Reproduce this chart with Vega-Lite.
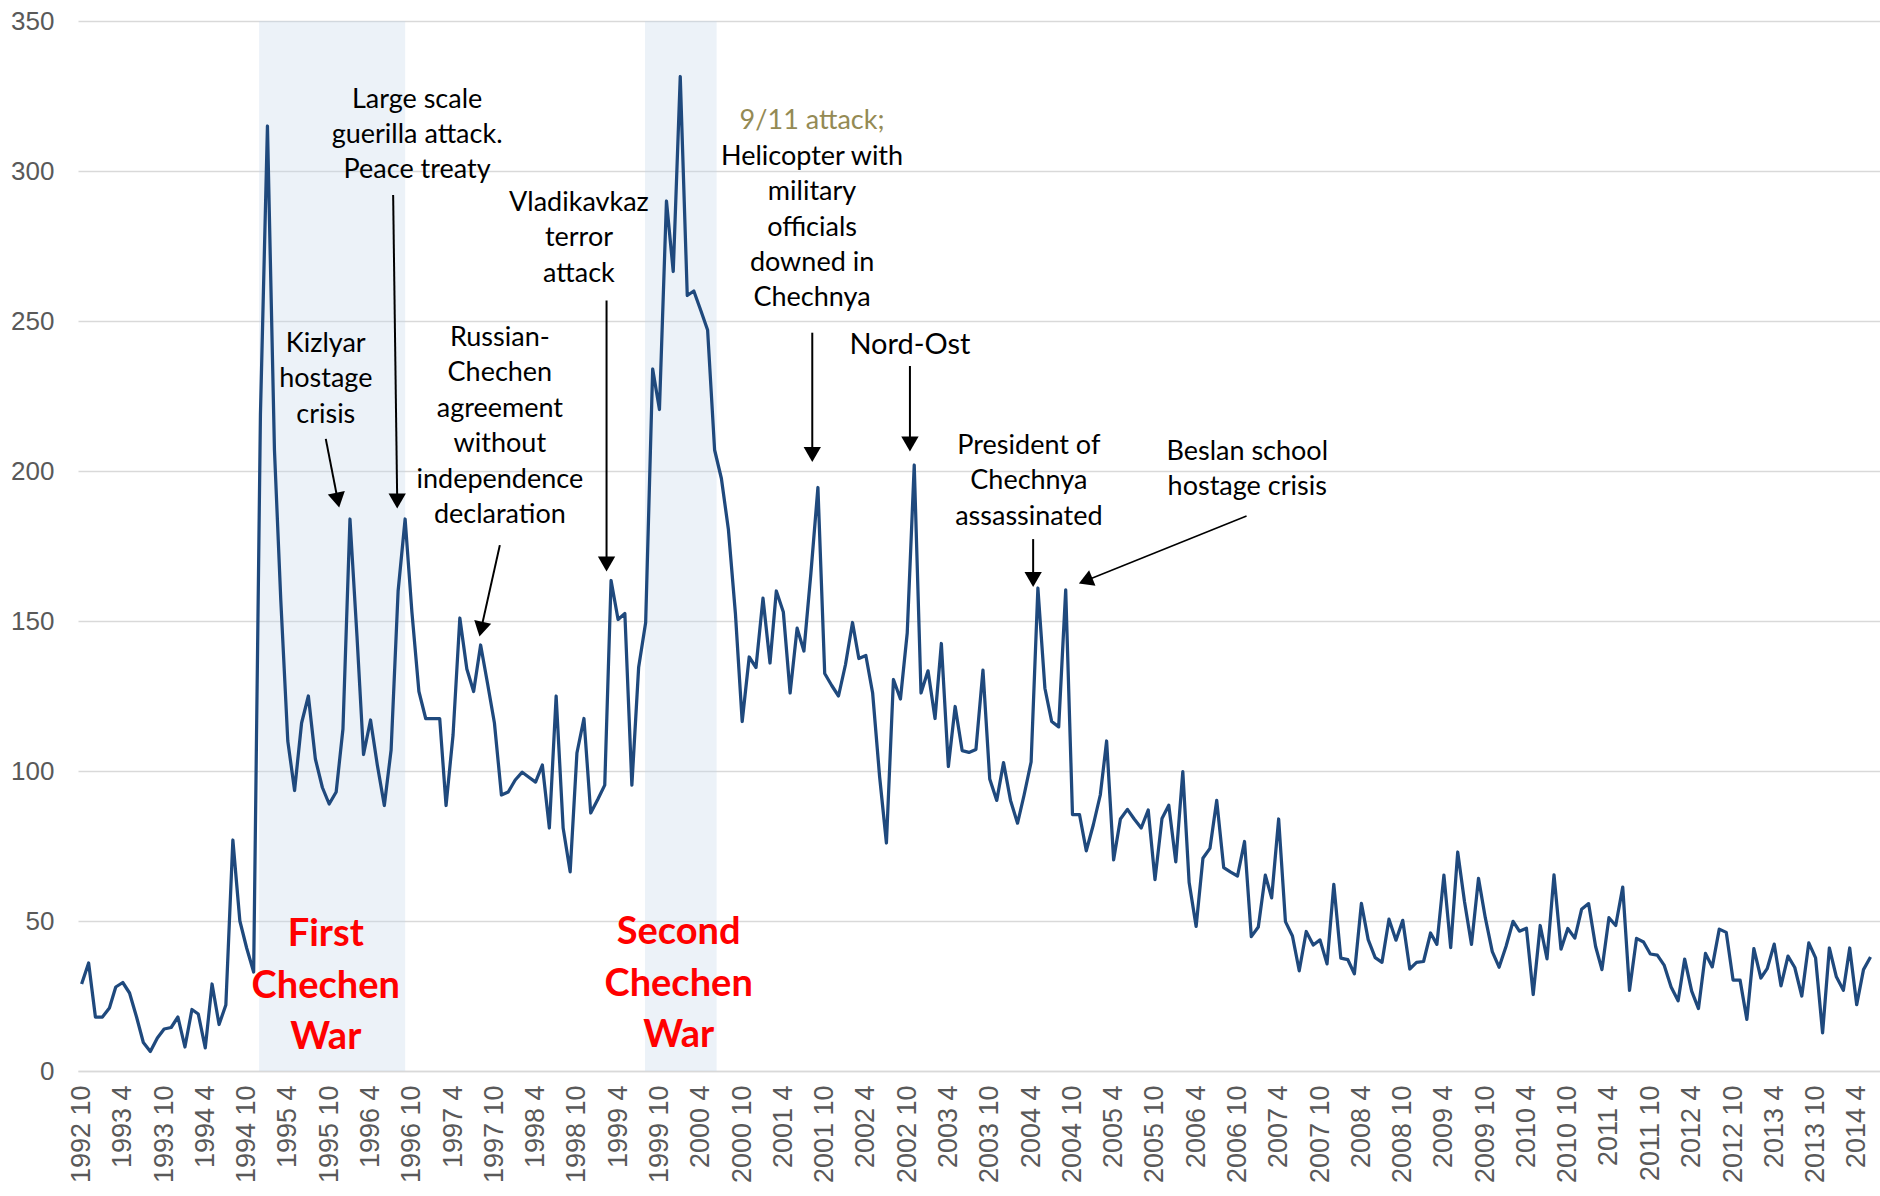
{
  "$schema": "https://vega.github.io/schema/vega-lite/v6.json",
  "width": 1802,
  "height": 1050,
  "autosize": {"type": "none"},
  "padding": {"left": 78, "top": 21, "right": 0, "bottom": 125},
  "background": "white",
  "config": {"view": {"stroke": null}},
  "datasets": {
    "series": [
      {"d":"1992-10-01","v":29},{"d":"1992-11-01","v":36},{"d":"1992-12-01","v":18},
      {"d":"1993-01-01","v":18},{"d":"1993-02-01","v":21},{"d":"1993-03-01","v":28},{"d":"1993-04-01","v":29.5},{"d":"1993-05-01","v":26},{"d":"1993-06-01","v":18},{"d":"1993-07-01","v":9.5},{"d":"1993-08-01","v":6.5},{"d":"1993-09-01","v":11},{"d":"1993-10-01","v":14},{"d":"1993-11-01","v":14.5},{"d":"1993-12-01","v":18},
      {"d":"1994-01-01","v":8},{"d":"1994-02-01","v":20.5},{"d":"1994-03-01","v":19},{"d":"1994-04-01","v":7.7},{"d":"1994-05-01","v":29},{"d":"1994-06-01","v":15.5},{"d":"1994-07-01","v":22},{"d":"1994-08-01","v":77},{"d":"1994-09-01","v":50},{"d":"1994-10-01","v":41},{"d":"1994-11-01","v":33},{"d":"1994-12-01","v":219},
      {"d":"1995-01-01","v":315},{"d":"1995-02-01","v":207},{"d":"1995-03-01","v":157},{"d":"1995-04-01","v":110},{"d":"1995-05-01","v":93.5},{"d":"1995-06-01","v":116},{"d":"1995-07-01","v":125},{"d":"1995-08-01","v":104},{"d":"1995-09-01","v":94.5},{"d":"1995-10-01","v":89},{"d":"1995-11-01","v":93},{"d":"1995-12-01","v":114},
      {"d":"1996-01-01","v":184},{"d":"1996-02-01","v":145},{"d":"1996-03-01","v":105.5},{"d":"1996-04-01","v":117},{"d":"1996-05-01","v":102},{"d":"1996-06-01","v":88.5},{"d":"1996-07-01","v":107},{"d":"1996-08-01","v":160},{"d":"1996-09-01","v":184},{"d":"1996-10-01","v":153},{"d":"1996-11-01","v":126.5},{"d":"1996-12-01","v":117.5},
      {"d":"1997-01-01","v":117.5},{"d":"1997-02-01","v":117.5},{"d":"1997-03-01","v":88.5},{"d":"1997-04-01","v":112},{"d":"1997-05-01","v":151},{"d":"1997-06-01","v":134},{"d":"1997-07-01","v":126.5},{"d":"1997-08-01","v":142},{"d":"1997-09-01","v":129},{"d":"1997-10-01","v":116},{"d":"1997-11-01","v":92},{"d":"1997-12-01","v":93},
      {"d":"1998-01-01","v":97},{"d":"1998-02-01","v":99.6},{"d":"1998-03-01","v":98},{"d":"1998-04-01","v":96.3},{"d":"1998-05-01","v":102},{"d":"1998-06-01","v":81},{"d":"1998-07-01","v":125},{"d":"1998-08-01","v":81},{"d":"1998-09-01","v":66.4},{"d":"1998-10-01","v":106},{"d":"1998-11-01","v":117.5},{"d":"1998-12-01","v":86},
      {"d":"1999-01-01","v":90.5},{"d":"1999-02-01","v":95.3},{"d":"1999-03-01","v":163.5},{"d":"1999-04-01","v":150.5},{"d":"1999-05-01","v":152.5},{"d":"1999-06-01","v":95.3},{"d":"1999-07-01","v":134.6},{"d":"1999-08-01","v":149.5},{"d":"1999-09-01","v":234},{"d":"1999-10-01","v":220.5},{"d":"1999-11-01","v":290},{"d":"1999-12-01","v":266.5},
      {"d":"2000-01-01","v":331.5},{"d":"2000-02-01","v":258.5},{"d":"2000-03-01","v":260},{"d":"2000-04-01","v":253.5},{"d":"2000-05-01","v":247},{"d":"2000-06-01","v":207},{"d":"2000-07-01","v":197.5},{"d":"2000-08-01","v":180.5},{"d":"2000-09-01","v":152.5},{"d":"2000-10-01","v":116.5},{"d":"2000-11-01","v":138},{"d":"2000-12-01","v":134.5},
      {"d":"2001-01-01","v":157.6},{"d":"2001-02-01","v":136},{"d":"2001-03-01","v":160},{"d":"2001-04-01","v":153},{"d":"2001-05-01","v":126},{"d":"2001-06-01","v":147.6},{"d":"2001-07-01","v":140},{"d":"2001-08-01","v":166},{"d":"2001-09-01","v":194.5},{"d":"2001-10-01","v":132.5},{"d":"2001-11-01","v":128.5},{"d":"2001-12-01","v":125},
      {"d":"2002-01-01","v":135.5},{"d":"2002-02-01","v":149.5},{"d":"2002-03-01","v":137.5},{"d":"2002-04-01","v":138.5},{"d":"2002-05-01","v":126},{"d":"2002-06-01","v":98},{"d":"2002-07-01","v":76},{"d":"2002-08-01","v":130.5},{"d":"2002-09-01","v":124},{"d":"2002-10-01","v":146},{"d":"2002-11-01","v":202},{"d":"2002-12-01","v":126},
      {"d":"2003-01-01","v":133.4},{"d":"2003-02-01","v":117.5},{"d":"2003-03-01","v":142.5},{"d":"2003-04-01","v":101.5},{"d":"2003-05-01","v":121.5},{"d":"2003-06-01","v":106.8},{"d":"2003-07-01","v":106.2},{"d":"2003-08-01","v":107.2},{"d":"2003-09-01","v":133.6},{"d":"2003-10-01","v":97.3},{"d":"2003-11-01","v":90.2},{"d":"2003-12-01","v":102.8},
      {"d":"2004-01-01","v":90.2},{"d":"2004-02-01","v":82.6},{"d":"2004-03-01","v":92},{"d":"2004-04-01","v":103},{"d":"2004-05-01","v":161},{"d":"2004-06-01","v":127.6},{"d":"2004-07-01","v":116.5},{"d":"2004-08-01","v":114.7},{"d":"2004-09-01","v":160.4},{"d":"2004-10-01","v":85.5},{"d":"2004-11-01","v":85.5},{"d":"2004-12-01","v":73.4},
      {"d":"2005-01-01","v":82},{"d":"2005-02-01","v":92},{"d":"2005-03-01","v":110},{"d":"2005-04-01","v":70.4},{"d":"2005-05-01","v":84},{"d":"2005-06-01","v":87.2},{"d":"2005-07-01","v":84},{"d":"2005-08-01","v":81},{"d":"2005-09-01","v":87},{"d":"2005-10-01","v":63.8},{"d":"2005-11-01","v":84.2},{"d":"2005-12-01","v":88.6},
      {"d":"2006-01-01","v":69.7},{"d":"2006-02-01","v":99.8},{"d":"2006-03-01","v":62.8},{"d":"2006-04-01","v":48.2},{"d":"2006-05-01","v":70.9},{"d":"2006-06-01","v":74.2},{"d":"2006-07-01","v":90.2},{"d":"2006-08-01","v":67.8},{"d":"2006-09-01","v":66.3},{"d":"2006-10-01","v":65},{"d":"2006-11-01","v":76.5},{"d":"2006-12-01","v":44.8},
      {"d":"2007-01-01","v":48},{"d":"2007-02-01","v":65.3},{"d":"2007-03-01","v":57.7},{"d":"2007-04-01","v":84},{"d":"2007-05-01","v":49.8},{"d":"2007-06-01","v":45},{"d":"2007-07-01","v":33.4},{"d":"2007-08-01","v":46.5},{"d":"2007-09-01","v":42},{"d":"2007-10-01","v":43.7},{"d":"2007-11-01","v":35.7},{"d":"2007-12-01","v":62.2},
      {"d":"2008-01-01","v":37.6},{"d":"2008-02-01","v":37.1},{"d":"2008-03-01","v":32.4},{"d":"2008-04-01","v":55.9},{"d":"2008-05-01","v":43.8},{"d":"2008-06-01","v":37.8},{"d":"2008-07-01","v":36.2},{"d":"2008-08-01","v":50.6},{"d":"2008-09-01","v":43.6},{"d":"2008-10-01","v":50.2},{"d":"2008-11-01","v":34},{"d":"2008-12-01","v":36.2},
      {"d":"2009-01-01","v":36.5},{"d":"2009-02-01","v":46},{"d":"2009-03-01","v":42.2},{"d":"2009-04-01","v":65.3},{"d":"2009-05-01","v":41.1},{"d":"2009-06-01","v":73},{"d":"2009-07-01","v":56.5},{"d":"2009-08-01","v":42.2},{"d":"2009-09-01","v":64.2},{"d":"2009-10-01","v":51.1},{"d":"2009-11-01","v":39.8},{"d":"2009-12-01","v":34.6},
      {"d":"2010-01-01","v":41.6},{"d":"2010-02-01","v":49.9},{"d":"2010-03-01","v":46.6},{"d":"2010-04-01","v":47.6},{"d":"2010-05-01","v":25.5},{"d":"2010-06-01","v":48.5},{"d":"2010-07-01","v":37.4},{"d":"2010-08-01","v":65.4},{"d":"2010-09-01","v":40.6},{"d":"2010-10-01","v":47.5},{"d":"2010-11-01","v":44.3},{"d":"2010-12-01","v":53.9},
      {"d":"2011-01-01","v":55.8},{"d":"2011-02-01","v":41.5},{"d":"2011-03-01","v":33.8},{"d":"2011-04-01","v":51.1},{"d":"2011-05-01","v":48.5},{"d":"2011-06-01","v":61.3},{"d":"2011-07-01","v":26.9},{"d":"2011-08-01","v":44.2},{"d":"2011-09-01","v":43},{"d":"2011-10-01","v":39},{"d":"2011-11-01","v":38.6},{"d":"2011-12-01","v":35.3},
      {"d":"2012-01-01","v":28},{"d":"2012-02-01","v":23.4},{"d":"2012-03-01","v":37.3},{"d":"2012-04-01","v":26.6},{"d":"2012-05-01","v":20.8},{"d":"2012-06-01","v":39.2},{"d":"2012-07-01","v":34.7},{"d":"2012-08-01","v":47.3},{"d":"2012-09-01","v":46.2},{"d":"2012-10-01","v":30.3},{"d":"2012-11-01","v":30.3},{"d":"2012-12-01","v":17.2},
      {"d":"2013-01-01","v":40.8},{"d":"2013-02-01","v":31},{"d":"2013-03-01","v":34.1},{"d":"2013-04-01","v":42.3},{"d":"2013-05-01","v":28.4},{"d":"2013-06-01","v":38.3},{"d":"2013-07-01","v":34.5},{"d":"2013-08-01","v":25},{"d":"2013-09-01","v":42.7},{"d":"2013-10-01","v":37.7},{"d":"2013-11-01","v":12.7},{"d":"2013-12-01","v":41},
      {"d":"2014-01-01","v":31.4},{"d":"2014-02-01","v":26.9},{"d":"2014-03-01","v":41},{"d":"2014-04-01","v":22.1},{"d":"2014-05-01","v":33.8},{"d":"2014-06-01","v":38}
    ],
    "wars": [
      {"start":"1994-11-25","end":"1996-09-01"},
      {"start":"1999-07-29","end":"2000-06-10"}
    ],
    "notes": [
      {"d":"1995-09-16","v":242.3,"t":"Kizlyar\nhostage\ncrisis"},
      {"d":"1996-10-24","v":323.8,"t":"Large scale\nguerilla attack.\nPeace treaty"},
      {"d":"1997-10-25","v":244.3,"t":"Russian-\nChechen\nagreement\nwithout\nindependence\ndeclaration"},
      {"d":"1998-10-10","v":289.3,"t":"Vladikavkaz\nterror\nattack"},
      {"d":"2001-08-06","v":304.7,"t":"Helicopter with\nmilitary\nofficials\ndowned in\nChechnya"},
      {"d":"2004-03-22","v":208.3,"t":"President of\nChechnya\nassassinated"},
      {"d":"2006-11-13","v":206.3,"t":"Beslan school\nhostage crisis"}
    ],
    "nordost": [{"d":"2002-10-13","v":242,"t":"Nord-Ost"}],
    "nine11": [{"d":"2001-08-06","v":316.7,"t":"9/11 attack;"}],
    "warlabels": [
      {"d":"1995-09-16","v":45.3,"t":"First\nChechen\nWar"},
      {"d":"1999-12-25","v":46,"t":"Second\nChechen\nWar"}
    ],
    "arrows": [
      {"x1":"1995-09-16","y1":210.7,"x2":"1995-11-08","y2":190.3},
      {"x1":"1996-07-10","y1":292,"x2":"1996-07-28","y2":190},
      {"x1":"1997-10-25","y1":175.3,"x2":"1997-08-03","y2":147.3},
      {"x1":"1999-02-09","y1":256.8,"x2":"1999-02-09","y2":169},
      {"x1":"2001-08-07","y1":246.1,"x2":"2001-08-07","y2":205.5},
      {"x1":"2002-10-13","y1":235,"x2":"2002-10-13","y2":209},
      {"x1":"2004-04-10","y1":177.3,"x2":"2004-04-10","y2":163.8}
    ],
    "beslanArrow": [{"x1":"2006-11-10","y1":185,"x2":"2004-11-28","y2":163.4}],
    "headsDown": [
      {"d":"1996-07-28","v":190},
      {"d":"1999-02-09","v":169},
      {"d":"2001-08-07","v":205.5},
      {"d":"2002-10-13","v":209},
      {"d":"2004-04-10","v":163.8}
    ],
    "headKizlyar": [{"d":"1995-11-08","v":190.3}],
    "headRussian": [{"d":"1997-08-03","v":147.3}],
    "headBeslan": [{"d":"2004-11-28","v":163.4}]
  },
  "layer": [
    {
      "data": {"name": "wars"},
      "mark": {"type": "rect", "color": "#c5d6e8", "opacity": 0.32},
      "encoding": {
        "x": {"field": "start", "type": "temporal", "scale": {"type": "utc", "domain": [{"year":1992,"month":9,"date":15,"utc":true},{"year":2014,"month":7,"date":13,"utc":true}]}},
        "x2": {"field": "end"},
        "y": {"datum": 0, "type": "quantitative", "scale": {"domain": [0, 350], "nice": false}},
        "y2": {"datum": 350}
      }
    },
    {
      "data": {"name": "series"},
      "mark": {"type": "line", "color": "#1f497d", "strokeWidth": 3.25, "strokeJoin": "round"},
      "encoding": {
        "x": {
          "field": "d", "type": "temporal",
          "scale": {"type": "utc", "domain": [{"year":1992,"month":9,"date":15,"utc":true},{"year":2014,"month":7,"date":13,"utc":true}]},
          "axis": {
            "title": null, "format": "%Y %-m", "labelAngle": 270, "labelAlign": "right", "labelBaseline": "middle",
            "labelFont": "Liberation Sans", "labelFontSize": 27, "labelColor": "#595959", "labelPadding": 14,
            "ticks": false, "grid": false, "domainColor": "#d9d9d9", "domainWidth": 1.5, "labelOverlap": false, "labelFlush": false,
            "values": [
              {"year":1992,"month":10,"date":1,"utc":true},
              {"year":1993,"month":4,"date":1,"utc":true},{"year":1993,"month":10,"date":1,"utc":true},
              {"year":1994,"month":4,"date":1,"utc":true},{"year":1994,"month":10,"date":1,"utc":true},
              {"year":1995,"month":4,"date":1,"utc":true},{"year":1995,"month":10,"date":1,"utc":true},
              {"year":1996,"month":4,"date":1,"utc":true},{"year":1996,"month":10,"date":1,"utc":true},
              {"year":1997,"month":4,"date":1,"utc":true},{"year":1997,"month":10,"date":1,"utc":true},
              {"year":1998,"month":4,"date":1,"utc":true},{"year":1998,"month":10,"date":1,"utc":true},
              {"year":1999,"month":4,"date":1,"utc":true},{"year":1999,"month":10,"date":1,"utc":true},
              {"year":2000,"month":4,"date":1,"utc":true},{"year":2000,"month":10,"date":1,"utc":true},
              {"year":2001,"month":4,"date":1,"utc":true},{"year":2001,"month":10,"date":1,"utc":true},
              {"year":2002,"month":4,"date":1,"utc":true},{"year":2002,"month":10,"date":1,"utc":true},
              {"year":2003,"month":4,"date":1,"utc":true},{"year":2003,"month":10,"date":1,"utc":true},
              {"year":2004,"month":4,"date":1,"utc":true},{"year":2004,"month":10,"date":1,"utc":true},
              {"year":2005,"month":4,"date":1,"utc":true},{"year":2005,"month":10,"date":1,"utc":true},
              {"year":2006,"month":4,"date":1,"utc":true},{"year":2006,"month":10,"date":1,"utc":true},
              {"year":2007,"month":4,"date":1,"utc":true},{"year":2007,"month":10,"date":1,"utc":true},
              {"year":2008,"month":4,"date":1,"utc":true},{"year":2008,"month":10,"date":1,"utc":true},
              {"year":2009,"month":4,"date":1,"utc":true},{"year":2009,"month":10,"date":1,"utc":true},
              {"year":2010,"month":4,"date":1,"utc":true},{"year":2010,"month":10,"date":1,"utc":true},
              {"year":2011,"month":4,"date":1,"utc":true},{"year":2011,"month":10,"date":1,"utc":true},
              {"year":2012,"month":4,"date":1,"utc":true},{"year":2012,"month":10,"date":1,"utc":true},
              {"year":2013,"month":4,"date":1,"utc":true},{"year":2013,"month":10,"date":1,"utc":true},
              {"year":2014,"month":4,"date":1,"utc":true}
            ]
          }
        },
        "y": {
          "field": "v", "type": "quantitative",
          "scale": {"domain": [0, 350], "nice": false},
          "axis": {
            "title": null, "values": [0, 50, 100, 150, 200, 250, 300, 350],
            "labelFont": "Liberation Sans", "labelFontSize": 26, "labelColor": "#595959", "labelPadding": 24,
            "ticks": false, "domain": false, "grid": true, "gridColor": "#d9d9d9", "gridWidth": 1.5
          }
        }
      }
    },
    {
      "data": {"name": "arrows"},
      "mark": {"type": "rule", "color": "black", "strokeWidth": 2},
      "encoding": {
        "x": {"field": "x1", "type": "temporal", "scale": {"type": "utc"}},
        "x2": {"field": "x2"},
        "y": {"field": "y1", "type": "quantitative", "scale": {"domain": [0, 350], "nice": false}},
        "y2": {"field": "y2"}
      }
    },
    {
      "data": {"name": "beslanArrow"},
      "mark": {"type": "rule", "color": "black", "strokeWidth": 1.5},
      "encoding": {
        "x": {"field": "x1", "type": "temporal", "scale": {"type": "utc"}},
        "x2": {"field": "x2"},
        "y": {"field": "y1", "type": "quantitative", "scale": {"domain": [0, 350], "nice": false}},
        "y2": {"field": "y2"}
      }
    },
    {
      "data": {"name": "headsDown"},
      "mark": {"type": "point", "shape": "triangle-down", "filled": true, "color": "black", "opacity": 1, "size": 300},
      "encoding": {
        "x": {"field": "d", "type": "temporal", "scale": {"type": "utc"}},
        "y": {"field": "v", "type": "quantitative", "scale": {"domain": [0, 350], "nice": false}}
      }
    },
    {
      "data": {"name": "headKizlyar"},
      "mark": {"type": "point", "shape": "triangle-down", "filled": true, "color": "black", "opacity": 1, "size": 300, "angle": 349},
      "encoding": {
        "x": {"field": "d", "type": "temporal", "scale": {"type": "utc"}},
        "y": {"field": "v", "type": "quantitative", "scale": {"domain": [0, 350], "nice": false}}
      }
    },
    {
      "data": {"name": "headRussian"},
      "mark": {"type": "point", "shape": "triangle-down", "filled": true, "color": "black", "opacity": 1, "size": 300, "angle": 12.5},
      "encoding": {
        "x": {"field": "d", "type": "temporal", "scale": {"type": "utc"}},
        "y": {"field": "v", "type": "quantitative", "scale": {"domain": [0, 350], "nice": false}}
      }
    },
    {
      "data": {"name": "headBeslan"},
      "mark": {"type": "point", "shape": "triangle-down", "filled": true, "color": "black", "opacity": 1, "size": 280, "angle": 67.7},
      "encoding": {
        "x": {"field": "d", "type": "temporal", "scale": {"type": "utc"}},
        "y": {"field": "v", "type": "quantitative", "scale": {"domain": [0, 350], "nice": false}}
      }
    },
    {
      "data": {"name": "notes"},
      "mark": {"type": "text", "font": "Lato", "fontSize": 27, "color": "black", "align": "center", "baseline": "middle", "lineBreak": "\n", "lineHeight": 35.4},
      "encoding": {
        "x": {"field": "d", "type": "temporal", "scale": {"type": "utc"}},
        "y": {"field": "v", "type": "quantitative", "scale": {"domain": [0, 350], "nice": false}},
        "text": {"field": "t"}
      }
    },
    {
      "data": {"name": "nordost"},
      "mark": {"type": "text", "font": "Lato", "fontSize": 29, "color": "black", "align": "center", "baseline": "middle"},
      "encoding": {
        "x": {"field": "d", "type": "temporal", "scale": {"type": "utc"}},
        "y": {"field": "v", "type": "quantitative", "scale": {"domain": [0, 350], "nice": false}},
        "text": {"field": "t"}
      }
    },
    {
      "data": {"name": "nine11"},
      "mark": {"type": "text", "font": "Lato", "fontSize": 27, "color": "#948a54", "align": "center", "baseline": "middle"},
      "encoding": {
        "x": {"field": "d", "type": "temporal", "scale": {"type": "utc"}},
        "y": {"field": "v", "type": "quantitative", "scale": {"domain": [0, 350], "nice": false}},
        "text": {"field": "t"}
      }
    },
    {
      "data": {"name": "warlabels"},
      "mark": {"type": "text", "font": "Lato", "fontSize": 38, "fontWeight": "bold", "color": "#ff0000", "align": "center", "baseline": "middle", "lineBreak": "\n", "lineHeight": 51.6},
      "encoding": {
        "x": {"field": "d", "type": "temporal", "scale": {"type": "utc"}},
        "y": {"field": "v", "type": "quantitative", "scale": {"domain": [0, 350], "nice": false}},
        "text": {"field": "t"}
      }
    }
  ]
}
